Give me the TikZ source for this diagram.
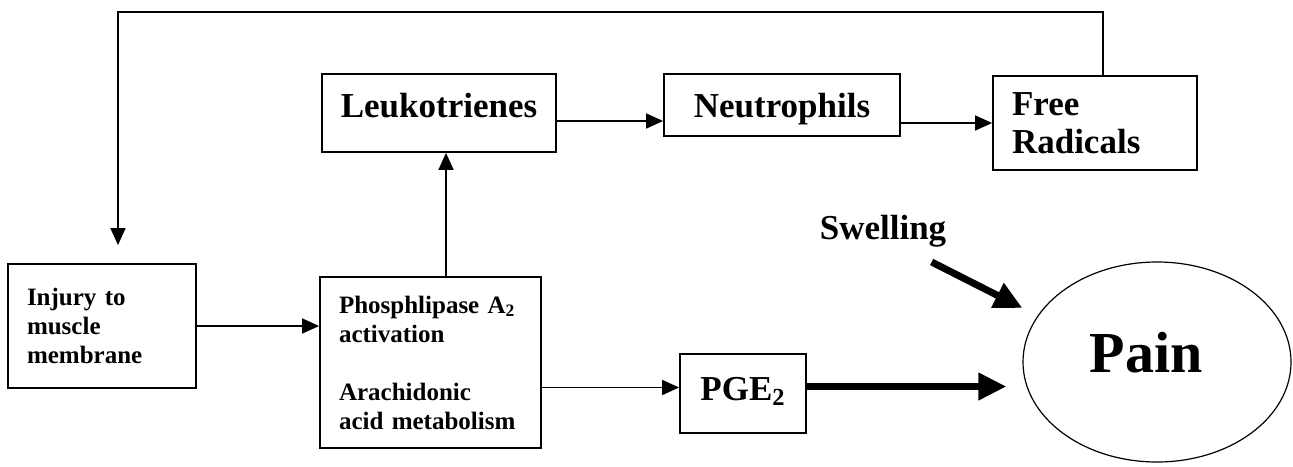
\documentclass[tikz,border=0pt]{standalone}
\usepackage{fontspec}
\setmainfont{Liberation Serif}
\usetikzlibrary{arrows.meta}
\usetikzlibrary{shapes.geometric}

\begin{document}
\begin{tikzpicture}[x=0.5pt,y=-0.5pt,
        box/.style={draw,line width=0.9pt,inner sep=0pt,font=\bfseries\fontsize{17.5}{19}\selectfont},
        smallbox/.style={box,align=left,font=\bfseries\fontsize{12.5}{14.5}\selectfont},
        link/.style={line width=0.8pt,-{Triangle[length=8.5pt,width=7.5pt]}},
        fatlink/.style={line width=3.5pt,-{Triangle[length=14pt,width=13pt]}}]
                \useasboundingbox (0,0) rectangle (1293,466);
                \node[smallbox,minimum width=94pt,minimum height=62pt,text width=75pt] (injury) at (102,326) {Injury to\\muscle\\membrane};
                \node[smallbox,minimum width=110.5pt,minimum height=85.5pt,text width=91.5pt] (phos) at (430.5,362.5) {Phosphlipase A\textsubscript{2}\\activation\\[14.5pt]Arachidonic\\acid metabolism};
                \node[box,minimum width=117pt,minimum height=39pt,text depth=8pt] (leuk) at (439,113) {Leukotrienes};
                \node[box,minimum width=118pt,minimum height=31pt,text height=16pt,text depth=3.8pt] (neut) at (782,105) {Neutrophils};
                \node[box,align=left,text width=83pt,minimum width=102pt,minimum height=47pt] (free) at (1095,123) {Free\\Radicals};
                \node[box,minimum width=63pt,minimum height=39.5pt,text depth=5pt] (pge) at (743,393.5) {PGE\textsubscript{2}};
                \node[ellipse,draw,line width=0.6pt,minimum width=134pt,minimum height=100pt,inner sep=0pt,text depth=10pt,font=\bfseries\fontsize{29}{32}\selectfont] (pain) at (1157,362) {Pain\kern11pt};
                \node[inner sep=0pt,font=\bfseries\fontsize{17.5}{20}\selectfont] (swell) at (883,231) {Swelling};
                \coordinate (ret) at (118,12);
                \path[link]
                (injury.east) edge (injury.east -| phos.west)
                ([xshift=7.75pt]phos.north) edge ([xshift=7.75pt]phos.north |- leuk.south)
                ([yshift=-4pt]leuk.east) edge ([yshift=-4pt]leuk.east -| neut.west)
                (neut.east |- free.west) edge (free.west)
                ([yshift=3pt]phos.east |- pge.west) edge ([yshift=3pt]pge.west);
                \draw[link,shorten >=9pt] ([xshift=4pt]free.north) |- (ret) -- (ret |- injury.north);
                \draw[fatlink,shorten >=8pt] ([yshift=3.5pt]pge.east) -- ([yshift=3.5pt]pge.east -| pain.west);
                \draw[fatlink] ([shift={(-15,31)}]swell.east) -- ([yshift=27pt]pain.west);
            \end{tikzpicture}
\end{document}
